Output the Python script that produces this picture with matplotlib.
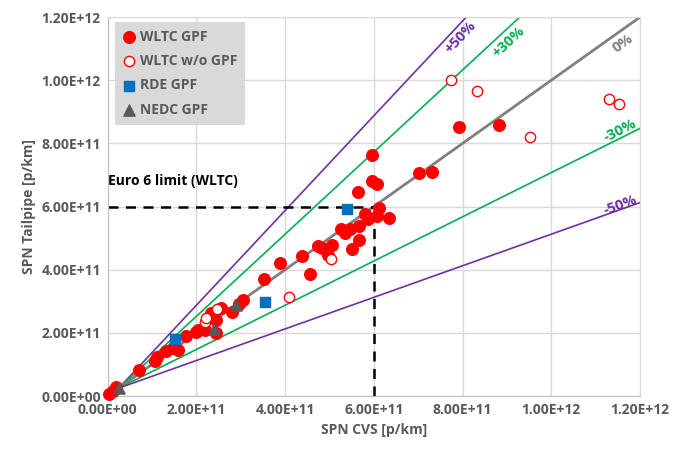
import matplotlib.pyplot as plt
from matplotlib.ticker import FuncFormatter, MultipleLocator

plt.rcParams['font.family'] = ['Open Sans', 'DejaVu Sans']

# data in units of 1e11 p/km
wltc_gpf_x = [0.03, 0.12, 0.19, 0.71, 1.06, 1.12, 1.32, 1.47, 1.59, 1.77, 2.00, 2.04, 2.20, 2.44,
              2.45, 2.34, 2.56, 2.80, 2.95, 3.05, 3.52, 3.88, 4.38, 4.57, 4.74, 4.84, 4.97, 5.06,
              5.27, 5.34, 5.47, 5.50, 5.66, 5.67, 5.65, 5.81, 5.87, 5.95, 5.96, 6.08, 6.08, 6.12,
              6.35, 7.02, 7.31, 7.91, 8.82]
wltc_gpf_y = [0.06, 0.15, 0.29, 0.82, 1.10, 1.23, 1.41, 1.51, 1.47, 1.89, 2.02, 2.10, 2.09, 2.00,
              2.41, 2.62, 2.79, 2.67, 2.91, 3.04, 3.72, 4.21, 4.43, 3.86, 4.75, 4.70, 4.48, 4.77,
              5.29, 5.17, 5.29, 4.64, 4.95, 5.38, 6.47, 5.75, 5.60, 7.63, 6.80, 6.71, 5.70, 5.96,
              5.63, 7.05, 7.08, 8.52, 8.58]

wltc_nogpf_x = [2.19, 2.22, 2.47, 4.08, 5.04, 7.75, 8.32, 9.52, 11.31, 11.52]
wltc_nogpf_y = [2.35, 2.46, 2.75, 3.12, 4.34, 10.02, 9.65, 8.21, 9.42, 9.24]

rde_gpf_x = [1.51, 3.54, 5.40]
rde_gpf_y = [1.79, 2.97, 5.93]

nedc_gpf_x = [0.25, 2.39, 2.90]
nedc_gpf_y = [0.25, 2.11, 2.88]

# deviation lines
ratio_factors = [1.5, 1.3, 1.0, 0.7, 0.5]
ratio_labels = ['+50%', '+30%', '0%', '-30%', '-50%']
ratio_colors = ['#7030A0', '#00B050', '#808080', '#00B050', '#7030A0']

euro6_limit = 6.0
scale = 1e11
start = 0.25
xmax = 12.0
ymax = 12.0

fig = plt.figure(figsize=(6.73, 4.49), dpi=100)
ax = fig.add_axes([0.160, 0.118, 0.791, 0.844])

for k, lab, col in zip(ratio_factors, ratio_labels, ratio_colors):
    # line from common start point to edge of plot
    x_end = min(xmax, start + (ymax - start) / k)
    y_end = start + k * (x_end - start)
    lw = 2.0 if k == 1.0 else 1.2
    ax.plot([start * scale, x_end * scale], [start * scale, y_end * scale],
            color=col, linewidth=lw, zorder=2)

text_pos = [(7.95, 11.36), (9.05, 11.21), (11.62, 11.16), (11.55, 8.42), (11.55, 6.05)]
text_rot = [47, 43, 36, 27, 20]
for (tx, ty), lab, col, rot in zip(text_pos, ratio_labels, ratio_colors, text_rot):
    ax.text(tx * scale, ty * scale, lab, color=col, fontsize=10.5, fontweight='bold',
            rotation=rot, ha='center', va='center', zorder=3)

# euro 6 limit
ax.plot([0, euro6_limit * scale], [euro6_limit * scale, euro6_limit * scale],
        color='black', linestyle=(0, (4, 3)), linewidth=1.8, zorder=2)
ax.plot([euro6_limit * scale, euro6_limit * scale], [0, euro6_limit * scale],
        color='black', linestyle=(0, (4, 3)), linewidth=1.8, zorder=2)
ax.text(0.0, 6.82 * scale, 'Euro 6 limit (WLTC)', fontsize=10, fontweight='bold',
        color='black', ha='left', va='center', zorder=3)

ax.scatter([v * scale for v in wltc_gpf_x], [v * scale for v in wltc_gpf_y], s=70,
           color='#FF0000', marker='o', label='WLTC GPF', zorder=4, clip_on=False)
ax.scatter([v * scale for v in wltc_nogpf_x], [v * scale for v in wltc_nogpf_y], s=55,
           facecolor='white', edgecolor='#FF0000', linewidth=1.0, marker='o',
           label='WLTC w/o GPF', zorder=4)
ax.scatter([v * scale for v in rde_gpf_x], [v * scale for v in rde_gpf_y], s=55,
           color='#0070C0', marker='s', label='RDE GPF', zorder=5)
ax.scatter([v * scale for v in nedc_gpf_x], [v * scale for v in nedc_gpf_y], s=65,
           color='#595959', marker='^', label='NEDC GPF', zorder=5)

ax.set_xlim(0, xmax * scale)
ax.set_ylim(0, ymax * scale)
ax.xaxis.set_major_locator(MultipleLocator(2e11))
ax.yaxis.set_major_locator(MultipleLocator(2e11))
fmt = FuncFormatter(lambda v, p: '%.2E' % v)
ax.xaxis.set_major_formatter(fmt)
ax.yaxis.set_major_formatter(fmt)
ax.grid(True, color='#D9D9D9', linewidth=1.0, zorder=0)
ax.set_axisbelow(True)
for s in ax.spines.values():
    s.set_color('#D9D9D9')
ax.spines['left'].set_color('#BFBFBF')
ax.spines['bottom'].set_color('#BFBFBF')
ax.tick_params(length=0, labelsize=10, labelcolor='#595959', pad=5)
for t in ax.get_xticklabels() + ax.get_yticklabels():
    t.set_fontweight('bold')

ax.set_xlabel('SPN CVS [p/km]', fontsize=10, fontweight='bold', color='#595959', labelpad=4)
ax.set_ylabel('SPN Tailpipe [p/km]', fontsize=10, fontweight='bold', color='#595959', labelpad=4)

leg = ax.legend(loc='upper left', bbox_to_anchor=(0.013, 0.987), borderaxespad=0,
                facecolor='#D9D9D9', edgecolor='none', framealpha=1, fancybox=False,
                fontsize=10, labelspacing=0.75, handletextpad=0.25, handlelength=1.0,
                borderpad=0.55)
for t in leg.get_texts():
    t.set_color('#595959')
    t.set_fontweight('bold')

fig.savefig('out.png', dpi=100)
